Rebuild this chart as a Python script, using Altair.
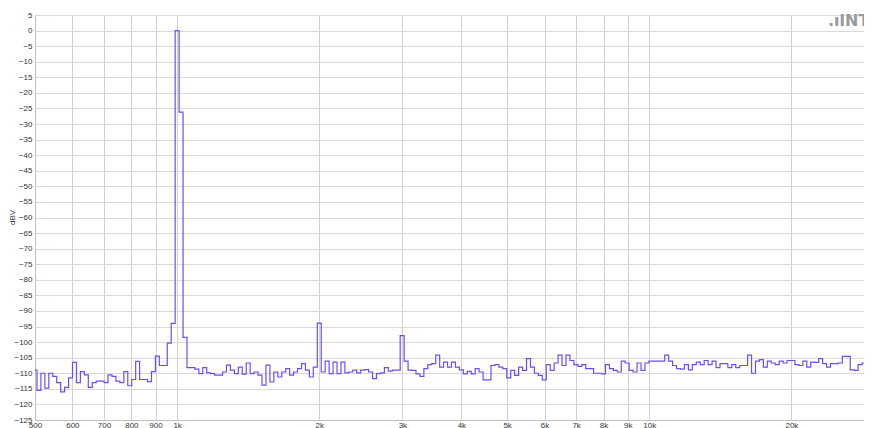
import altair as alt
import pandas as pd

# 1/36-octave analyzer bands, centred on 1 kHz
BANDS_PER_OCTAVE = 36
REF_FREQ = 1000.0
FIRST_BAND = -36

# band levels in dBV (left to right)
levels_below_1k = [-109, -115.5, -110, -114.8, -110, -111, -113, -116, -114.5, -111.5,
                   -106.5, -113, -109.5, -110.5, -114.5, -113, -112.5, -112.5, -113, -110.5,
                   -111, -112.5, -113, -109.5, -114, -112, -106.2, -112, -112, -112.7,
                   -109.5, -104.5, -107.5, -107.5, -100.3, -94]
levels_fundamental = [0.0, -26.2, -98.5]
levels_1k_2k = [-108.2, -108.2, -108.7, -110.1, -108.2, -109.9, -110.1, -110.6, -110.6, -109.6,
                -107.4, -109, -110.1, -108, -110.3, -106.7, -110.1, -109.6, -110.6, -113.8,
                -107.4, -112.8, -109.6, -111.2, -109.6, -108.5, -110.6, -109.6, -108.5, -106.9,
                -109, -111.2, -108]
level_h2 = [-93.9]
levels_2k_3k = [-109.6, -106.1, -110.1, -106.4, -110.1, -106.4, -109.9, -109.6, -109, -109.9,
                -109, -108.8, -109.6, -111.7, -110.1, -109.9, -108.2, -109.3, -109, -109]
level_h3 = [-97.9]
levels_3k_10k = [-106.1, -109,
                 -109.1, -110.2, -111, -108.5, -107.2, -106.9, -104.2, -108, -106.4, -108,
                 -106.4, -108, -108.9, -110.2, -109.4, -110.2, -108.5, -109.6, -112.1, -112.1,
                 -107.5, -107.2, -108, -108.5, -111.5, -109.1, -110.7, -108, -109.1, -105.3,
                 -108, -110, -110.7, -112.1, -107.2, -109.1, -106.7, -104.2, -107.5, -104.2,
                 -105.9, -107.2, -107.8, -107.2, -108.5, -108.5, -110, -110, -110.2, -107.2,
                 -108.5, -109.1, -109.6, -106.1, -106.7, -109.1, -109.6, -106.7, -109.1, -106.7]
levels_above_10k = [-106.1, -106.1, -106.1, -106.1, -104.2, -106.1, -107.5, -108.5, -108.7, -107.2,
                    -108.9, -107.2, -106.4, -107.2, -105.9, -107.2, -106.1, -108.2, -106.9, -106.9,
                    -108.2, -107.2, -108.2, -107.5, -107.5, -104.2, -110, -106.1, -105.6, -108,
                    -106.1, -106.7, -107.2, -106.1, -106.7, -105.9, -105.9, -107.2, -107.5, -106.1,
                    -108, -106.4, -106.5, -105.3, -106.9, -108, -106.9, -106.9, -106.7, -104.6,
                    -104.6, -108.9, -109.1, -107.2, -106.7, -106.7, -106.7, -106.7]

x_ticks = [500, 600, 700, 800, 900, 1000, 2000, 3000, 4000, 5000, 6000, 7000, 8000, 9000,
           10000, 20000, 30000]
y_ticks = list(range(-125, 10, 5))
logo_text = [".ılNTi"]

levels = (levels_below_1k + levels_fundamental + levels_1k_2k + level_h2 + levels_2k_3k
          + level_h3 + levels_3k_10k + levels_above_10k)

rows = []
for i, v in enumerate(levels):
    k = FIRST_BAND + i
    fc = REF_FREQ * 2 ** (k / BANDS_PER_OCTAVE)
    half = 2 ** (1 / (2 * BANDS_PER_OCTAVE))
    rows.append({"f": fc / half, "dbv": v, "o": 2 * i})
    rows.append({"f": fc * half, "dbv": v, "o": 2 * i + 1})
df = pd.DataFrame(rows)

FONT = "Liberation Sans"

x_enc = alt.X(
    "f:Q",
    scale=alt.Scale(type="log", domain=[500, 28500]),
    axis=alt.Axis(
        values=x_ticks, title=None, grid=True, gridColor="#d2d2d2", ticks=False,
        domainColor="#c0c0c0", labelFont=FONT, labelFontSize=8, labelColor="#333333",
        labelPadding=1, labelOverlap=False, labelFlush=False,
        labelExpr="datum.value >= 1000 ? format(datum.value / 1000, 'd') + 'k' : format(datum.value, 'd')",
    ),
)
y_enc = alt.Y(
    "dbv:Q",
    scale=alt.Scale(domain=[-125, 5], nice=False, zero=False),
    axis=alt.Axis(
        values=y_ticks, title="dBV", grid=True, gridColor="#d9d9d9", ticks=False,
        domainColor="#c0c0c0", labelFont=FONT, labelFontSize=8, labelColor="#333333",
        labelPadding=3, labelOverlap=False, titleFont=FONT, titleFontSize=8,
        titleFontWeight="normal", titleColor="#333333", titleX=-19, titleY=202,
    ),
)

line = alt.Chart(df).mark_line(color="#6b4dff", strokeWidth=1.2, clip=True).encode(
    x=x_enc, y=y_enc, order="o:Q"
)

logo = alt.Chart(pd.DataFrame({"t": logo_text})).mark_text(
    font="DejaVu Sans", fontWeight="bold", fontSize=16, color="#9a9a9a", align="left",
    baseline="middle",
).encode(text="t:N", x=alt.value(793), y=alt.value(6))

chart = alt.layer(line, logo).properties(
    width=829, height=405,
    autosize=alt.AutoSizeParams(type="none"),
    padding={"left": 27, "top": 7, "right": 0, "bottom": 8},
).configure_view(strokeWidth=0).configure(background="white")

chart.save("out.html", embed_options={"renderer": "svg", "actions": False})
